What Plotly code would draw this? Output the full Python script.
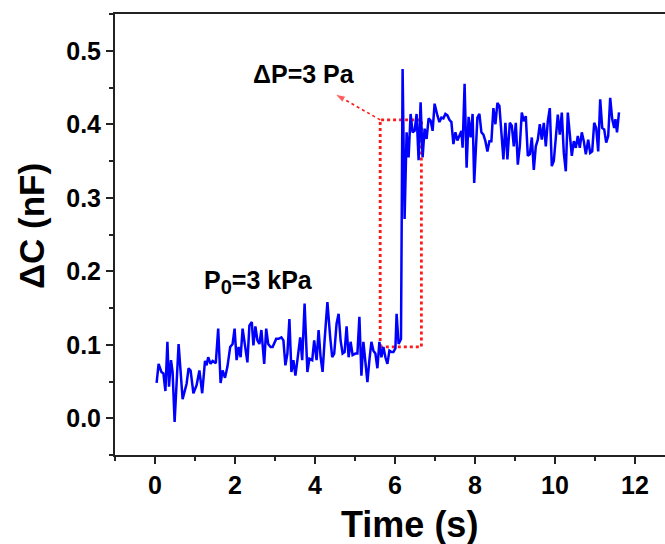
import plotly.graph_objects as go

# ---- data ----
time_s = [0.04, 0.09, 0.16, 0.21, 0.26, 0.31, 0.35, 0.40, 0.44, 0.49, 0.59, 0.69, 0.79, 0.84, 0.89, 0.96,
          1.04, 1.11, 1.18, 1.25, 1.29, 1.33, 1.39, 1.44, 1.52, 1.58, 1.64, 1.69, 1.75, 1.81, 1.88, 1.94,
          1.99, 2.04, 2.09, 2.14, 2.19, 2.26, 2.31, 2.36, 2.42, 2.46, 2.51, 2.56, 2.61, 2.66, 2.73, 2.78,
          2.83, 2.89, 2.94, 3.03, 3.09, 3.16, 3.21, 3.26, 3.31, 3.36, 3.41, 3.46, 3.51, 3.56, 3.63, 3.68,
          3.74, 3.81, 3.86, 3.93, 3.98, 4.04, 4.09, 4.14, 4.19, 4.24, 4.31, 4.38, 4.43, 4.48, 4.54, 4.59,
          4.64, 4.69, 4.74, 4.79, 4.84, 4.89, 4.94, 5.01, 5.06, 5.11, 5.16, 5.21, 5.26, 5.31, 5.36, 5.41,
          5.46, 5.51, 5.56, 5.61, 5.66, 5.71, 5.76, 5.81, 5.86, 5.91, 5.96, 6.01, 6.04, 6.09, 6.15, 6.19,
          6.24, 6.29, 6.34, 6.39, 6.44, 6.49, 6.54, 6.59, 6.64, 6.69, 6.74, 6.79, 6.84, 6.89, 6.94, 6.99,
          7.06, 7.11, 7.16, 7.21, 7.26, 7.31, 7.36, 7.41, 7.46, 7.51, 7.56, 7.61, 7.66, 7.69, 7.74, 7.79,
          7.84, 7.89, 7.94, 7.98, 8.06, 8.11, 8.16, 8.21, 8.26, 8.31, 8.36, 8.41, 8.46, 8.51, 8.56, 8.61,
          8.66, 8.71, 8.76, 8.81, 8.87, 8.92, 8.97, 9.02, 9.07, 9.12, 9.17, 9.22, 9.27, 9.32, 9.37, 9.42,
          9.47, 9.52, 9.57, 9.62, 9.67, 9.72, 9.77, 9.82, 9.87, 9.92, 9.97, 10.02, 10.07, 10.12, 10.17, 10.22,
          10.27, 10.32, 10.37, 10.42, 10.47, 10.52, 10.57, 10.62, 10.67, 10.72, 10.77, 10.83, 10.88, 10.93, 10.98, 11.03,
          11.08, 11.13, 11.18, 11.23, 11.28, 11.33, 11.38, 11.43, 11.48, 11.51, 11.55, 11.60]

delta_c_nF = [0.048, 0.074, 0.063, 0.061, 0.037, 0.104, 0.043, 0.079, 0.063, -0.005, 0.101, 0.026, 0.047, 0.068, 0.065, 0.034,
              0.045, 0.065, 0.034, 0.078, 0.072, 0.083, 0.074, 0.078, 0.075, 0.122, 0.048, 0.065, 0.055, 0.070, 0.097, 0.101,
              0.122, 0.079, 0.097, 0.083, 0.122, 0.097, 0.076, 0.126, 0.131, 0.099, 0.125, 0.106, 0.101, 0.120, 0.074, 0.122,
              0.101, 0.097, 0.097, 0.108, 0.108, 0.110, 0.106, 0.072, 0.088, 0.135, 0.063, 0.079, 0.058, 0.079, 0.110, 0.079,
              0.156, 0.063, 0.081, 0.079, 0.106, 0.079, 0.120, 0.083, 0.063, 0.106, 0.158, 0.110, 0.083, 0.088, 0.129, 0.142,
              0.106, 0.088, 0.090, 0.125, 0.083, 0.104, 0.086, 0.088, 0.088, 0.138, 0.058, 0.104, 0.074, 0.049, 0.079, 0.104,
              0.092, 0.088, 0.068, 0.104, 0.083, 0.097, 0.083, 0.074, 0.092, 0.090, 0.090, 0.095, 0.142, 0.101, 0.108, 0.475,
              0.271, 0.389, 0.355, 0.414, 0.389, 0.391, 0.414, 0.351, 0.430, 0.355, 0.394, 0.380, 0.408, 0.405, 0.391, 0.428,
              0.412, 0.403, 0.409, 0.408, 0.414, 0.412, 0.406, 0.403, 0.373, 0.389, 0.378, 0.385, 0.391, 0.368, 0.455, 0.341,
              0.410, 0.382, 0.414, 0.320, 0.409, 0.414, 0.389, 0.386, 0.377, 0.363, 0.377, 0.377, 0.422, 0.400, 0.429, 0.425,
              0.393, 0.352, 0.402, 0.352, 0.402, 0.398, 0.370, 0.402, 0.345, 0.370, 0.416, 0.404, 0.411, 0.357, 0.359, 0.382,
              0.338, 0.370, 0.379, 0.400, 0.379, 0.402, 0.370, 0.404, 0.422, 0.343, 0.350, 0.377, 0.413, 0.386, 0.416, 0.361,
              0.336, 0.416, 0.384, 0.357, 0.377, 0.368, 0.384, 0.368, 0.389, 0.377, 0.359, 0.379, 0.361, 0.363, 0.402, 0.395,
              0.363, 0.434, 0.395, 0.393, 0.375, 0.384, 0.436, 0.407, 0.395, 0.407, 0.389, 0.416]

# step marker (dotted red box) and arrow, in data units
box_t = [5.63, 5.63, 6.66, 6.66, 5.63]
box_c = [0.097, 0.406, 0.406, 0.097, 0.097]
arrow_t = [5.63, 4.50]
arrow_c = [0.406, 0.441]

label_dp = "ΔP=3 Pa"
label_p0 = "P<sub><span style='font-size:20px'>0</span></sub>=3 kPa"
label_dp_pos = (3.73, 0.468)
label_p0_pos = (2.58, 0.186)

x_title = "Time (s)"
y_title = "ΔC (nF)"

x_ticks = [0, 2, 4, 6, 8, 10, 12]
y_ticks = [0.0, 0.1, 0.2, 0.3, 0.4, 0.5]
y_tick_text = ["0.0", "0.1", "0.2", "0.3", "0.4", "0.5"]

FONT = "Liberation Sans, Arial, sans-serif"
AX = "#222222"

fig = go.Figure()

fig.add_trace(go.Scatter(x=box_t, y=box_c, mode="lines",
                         line=dict(color="#ff1a1a", width=2.8, dash="dot"),
                         hoverinfo="skip", showlegend=False))
fig.add_trace(go.Scatter(x=arrow_t, y=arrow_c, mode="lines+markers",
                         line=dict(color="#ff1a1a", width=1.6, dash="dot"),
                         marker=dict(symbol=["circle", "arrow"], size=[0, 11],
                                     angleref="previous", color="#ff1a1a"),
                         hoverinfo="skip", showlegend=False))
fig.add_trace(go.Scatter(x=time_s, y=delta_c_nF, mode="lines",
                         line=dict(color="#0000ff", width=2.5),
                         showlegend=False))

fig.add_annotation(x=label_dp_pos[0], y=label_dp_pos[1], text=label_dp, showarrow=False,
                   font=dict(family=FONT, size=25, color="black", weight="bold"))
fig.add_annotation(x=label_p0_pos[0], y=label_p0_pos[1], text=label_p0, showarrow=False,
                   font=dict(family=FONT, size=25, color="black", weight="bold"))

# axis titles placed as paper annotations to match the reference placement
fig.add_annotation(xref="paper", yref="paper", x=0.535, y=-0.158, text=x_title, showarrow=False,
                   xanchor="center", yanchor="middle",
                   font=dict(family=FONT, size=36, color="black", weight="bold"))
fig.add_annotation(xref="paper", yref="paper", x=-0.152, y=0.52, text=y_title, showarrow=False,
                   textangle=-90, xanchor="center", yanchor="middle",
                   font=dict(family=FONT, size=35, color="black", weight="bold"))

fig.update_layout(
    width=665, height=544,
    margin=dict(l=115, r=0, t=14, b=89),
    paper_bgcolor="white", plot_bgcolor="white",
    font=dict(family=FONT, color="black"),
)
fig.update_xaxes(
    range=[-1, 12.75], tickvals=x_ticks, ticks="outside", ticklen=7, tickwidth=2,
    tickcolor=AX, showline=True, linewidth=2, linecolor=AX, mirror=True,
    showgrid=False, zeroline=False,
    tickfont=dict(family=FONT, size=25, color="black", weight="bold"),
    minor=dict(dtick=1, tick0=-1, ticks="outside", ticklen=4, tickwidth=2, tickcolor=AX, showgrid=False),
)
fig.update_yaxes(
    range=[-0.05, 0.55], tickvals=y_ticks, ticktext=y_tick_text, ticks="outside", ticklen=7, tickwidth=2,
    tickcolor=AX, showline=True, linewidth=2, linecolor=AX, mirror=False,
    showgrid=False, zeroline=False,
    tickfont=dict(family=FONT, size=25, color="black", weight="bold"),
    minor=dict(dtick=0.05, tick0=-0.05, ticks="outside", ticklen=4, tickwidth=2, tickcolor=AX, showgrid=False),
)

fig.write_html("out.html")
